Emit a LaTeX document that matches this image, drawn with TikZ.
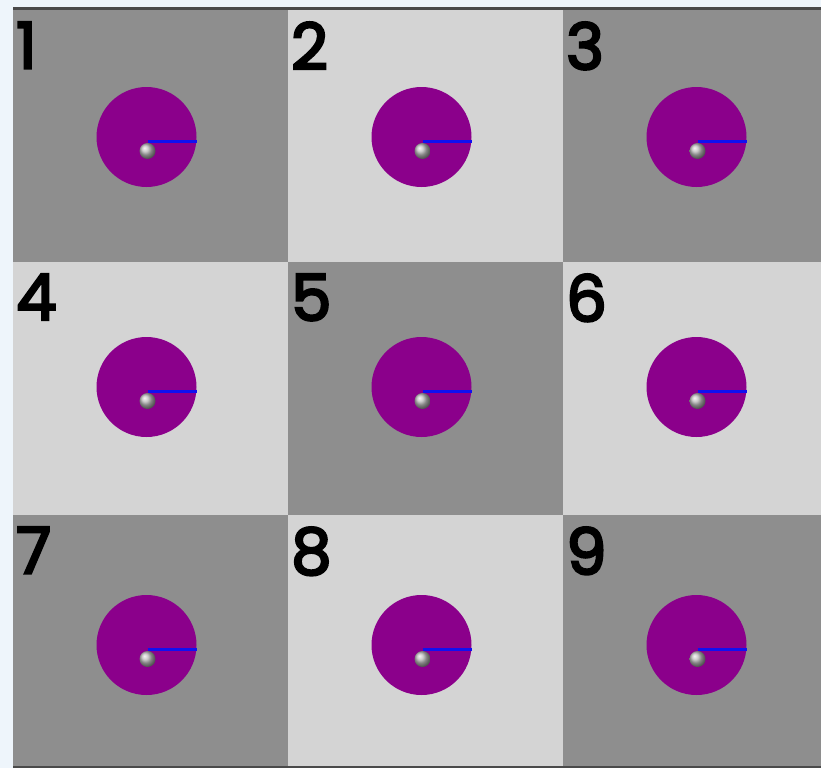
\documentclass[tikz,border=0pt]{standalone}
\usepackage{fontspec}
\newfontfamily\digitfont[FakeBold=3.8]{Poppins}
\begin{document}
\begin{tikzpicture}[x=1pt,y=-1pt,
  darkcell/.style={fill=cellDark},
  lightcell/.style={fill=cellLight},
  disc/.style={fill=discPurple},
  hand/.style={draw=handBlue,line width=3pt},
  ball/.style={shading=ball,ball color=ballGrey},
  digit/.style={anchor=north west,inner sep=0pt,text depth=0pt,font=\digitfont\fontsize{64}{64}\selectfont,text=black}]
\definecolor{bg}{HTML}{EEF5FB}
\definecolor{cellDark}{HTML}{8E8E8E}
\definecolor{cellLight}{HTML}{D4D4D4}
\definecolor{discPurple}{HTML}{8B008B}
\definecolor{handBlue}{HTML}{1010F0}
\definecolor{ballGrey}{HTML}{BDBDBD}
\definecolor{edge}{HTML}{4A4A4A}
\fill[bg] (0,0) rectangle (821,768);
\useasboundingbox (0,0) rectangle (821,768);
\begin{scope}
\clip (0,0) rectangle (821,768);
\foreach \r/\ytop/\cy in {0/10/137, 1/262/387, 2/515/645}{
  \foreach \c in {0,1,2}{
    \pgfmathtruncatemacro{\idx}{\r*3+\c+1}
    \pgfmathtruncatemacro{\parity}{mod(\r+\c,2)}
    \pgfmathsetmacro{\xl}{13+275*\c}
    \pgfmathsetmacro{\cx}{\xl+133.5}
    \ifnum\parity=0
      \fill[darkcell] (\xl,\ytop) rectangle ++(275,253);
    \else
      \fill[lightcell] (\xl,\ytop) rectangle ++(275,253);
    \fi
    \node[digit] (d\idx) at (\xl+3,\ytop+12) {\idx};
    \fill[disc] (\cx,\cy) circle (50);
    \draw[hand] (\cx+1,\cy+4) -- (\cx+50,\cy+4);
    \shade[ball] (\cx+1,\cy+14) circle (8);
  }
}
\fill[edge] (13,7) rectangle (821,10);
\fill[edge] (13,766) rectangle (821,768);
\end{scope}
\end{tikzpicture}
\end{document}
